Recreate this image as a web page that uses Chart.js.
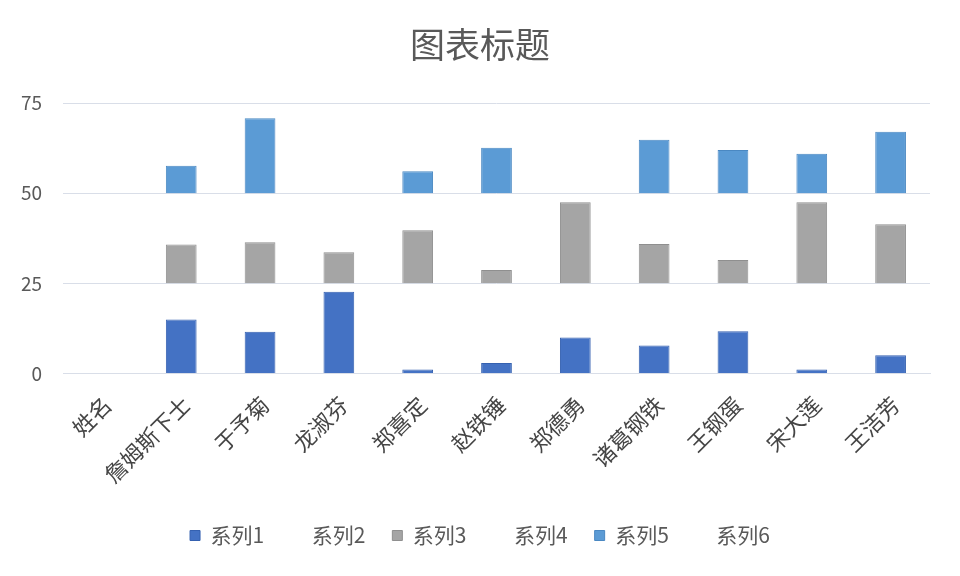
<!DOCTYPE html>
<html>
<head>
<meta charset="utf-8">
<script src="https://cdn.jsdelivr.net/npm/chart.js@4/dist/chart.umd.min.js"></script>
<style>
  html, body { margin: 0; padding: 0; background: #fff; }
  #wrap { width: 960px; height: 576px; }
</style>
</head>
<body>
<div id="wrap"><canvas id="barChart" width="960" height="576"></canvas></div>
<script>
// categories (first one is the header row that got charted)
const names = ['姓名', '詹姆斯下士', '于予菊', '龙淑芬', '郑喜定', '赵铁锤', '郑德勇', '诸葛钢铁', '王钢蛋', '宋大莲', '王洁芳'];

// visible series
const series1 = [null, 15, 11.6, 22.7, 1.1, 2.9, 10, 7.8, 11.7, 1.1, 5.1];
const series3 = [null, 10.8, 11.4, 8.6, 14.7, 3.7, 22.5, 10.9, 6.5, 22.5, 16.4];
const series5 = [null, 7.6, 20.8, 0, 6.1, 12.6, 0, 14.8, 12, 10.9, 17];

// invisible spacer series (gap up to the next band)
const series2 = [null, 10, 13.4, 2.3, 23.9, 22.1, 15, 17.2, 13.3, 23.9, 19.9];
const series4 = [null, 14.2, 13.6, 16.4, 10.3, 21.3, 2.5, 14.1, 18.5, 2.5, 8.6];
const series6 = [null, null, null, null, null, null, null, null, null, null, null];

const yTicks = [0, 25, 50, 75];

const font = "'Noto Sans CJK SC', 'Noto Sans', sans-serif";
const textColor = '#595959';
const gridColor = '#d9dee8';

function bar(label, data, fill, border) {
    return {
        label: label,
        data: data,
        backgroundColor: fill,
        borderColor: border,
        borderWidth: border ? 1 : 0,
        stack: 's',
        barPercentage: 0.39,
        categoryPercentage: 1
    };
}

let ctx = document.getElementById('barChart').getContext('2d');
let chart = new Chart(ctx, {
    type: 'bar',
    data: {
        labels: names,
        datasets: [
            bar('系列1', series1, '#4472c4', '#3561b0'),
            bar('系列2', series2, 'rgba(0,0,0,0)', null),
            bar('系列3', series3, '#a5a5a5', '#8f8f8f'),
            bar('系列4', series4, 'rgba(0,0,0,0)', null),
            bar('系列5', series5, '#5b9bd5', '#4a88c2'),
            bar('系列6', series6, 'rgba(0,0,0,0)', null)
        ]
    },
    options: {
        responsive: false,
        animation: false,
        layout: {
            padding: { left: 0, right: 0, top: 0, bottom: 20 }
        },
        plugins: {
            title: {
                display: true,
                text: '图表标题',
                color: textColor,
                font: { family: font, size: 35, weight: 'normal' },
                padding: { top: 24, bottom: 37 }
            },
            legend: {
                position: 'bottom',
                labels: {
                    color: textColor,
                    font: { family: font, size: 21 },
                    boxWidth: 10,
                    boxHeight: 10,
                    padding: 27
                }
            },
            tooltip: { enabled: false }
        },
        scales: {
            x: {
                stacked: true,
                grid: { display: false },
                border: { color: gridColor },
                ticks: {
                    color: '#454545',
                    font: { family: font, size: 22 },
                    minRotation: 45,
                    maxRotation: 45,
                    autoSkip: false,
                    labelOffset: 5,
                    padding: 10
                }
            },
            y: {
                stacked: true,
                min: 0,
                max: 75,
                afterBuildTicks: function (axis) {
                    axis.ticks = yTicks.map(v => ({ value: v }));
                },
                afterFit: function (axis) {
                    axis.width = 63;
                },
                grid: { color: gridColor, drawTicks: false },
                border: { display: false },
                ticks: {
                    color: textColor,
                    font: { family: font, size: 19 },
                    padding: 21
                }
            },
            // empty right margin so the title and legend stay centred on the page
            yRight: {
                position: 'right',
                grid: { display: false },
                border: { display: false },
                ticks: { display: false },
                afterFit: function (axis) {
                    axis.width = 30;
                }
            }
        }
    }
});
</script>
</body>
</html>
